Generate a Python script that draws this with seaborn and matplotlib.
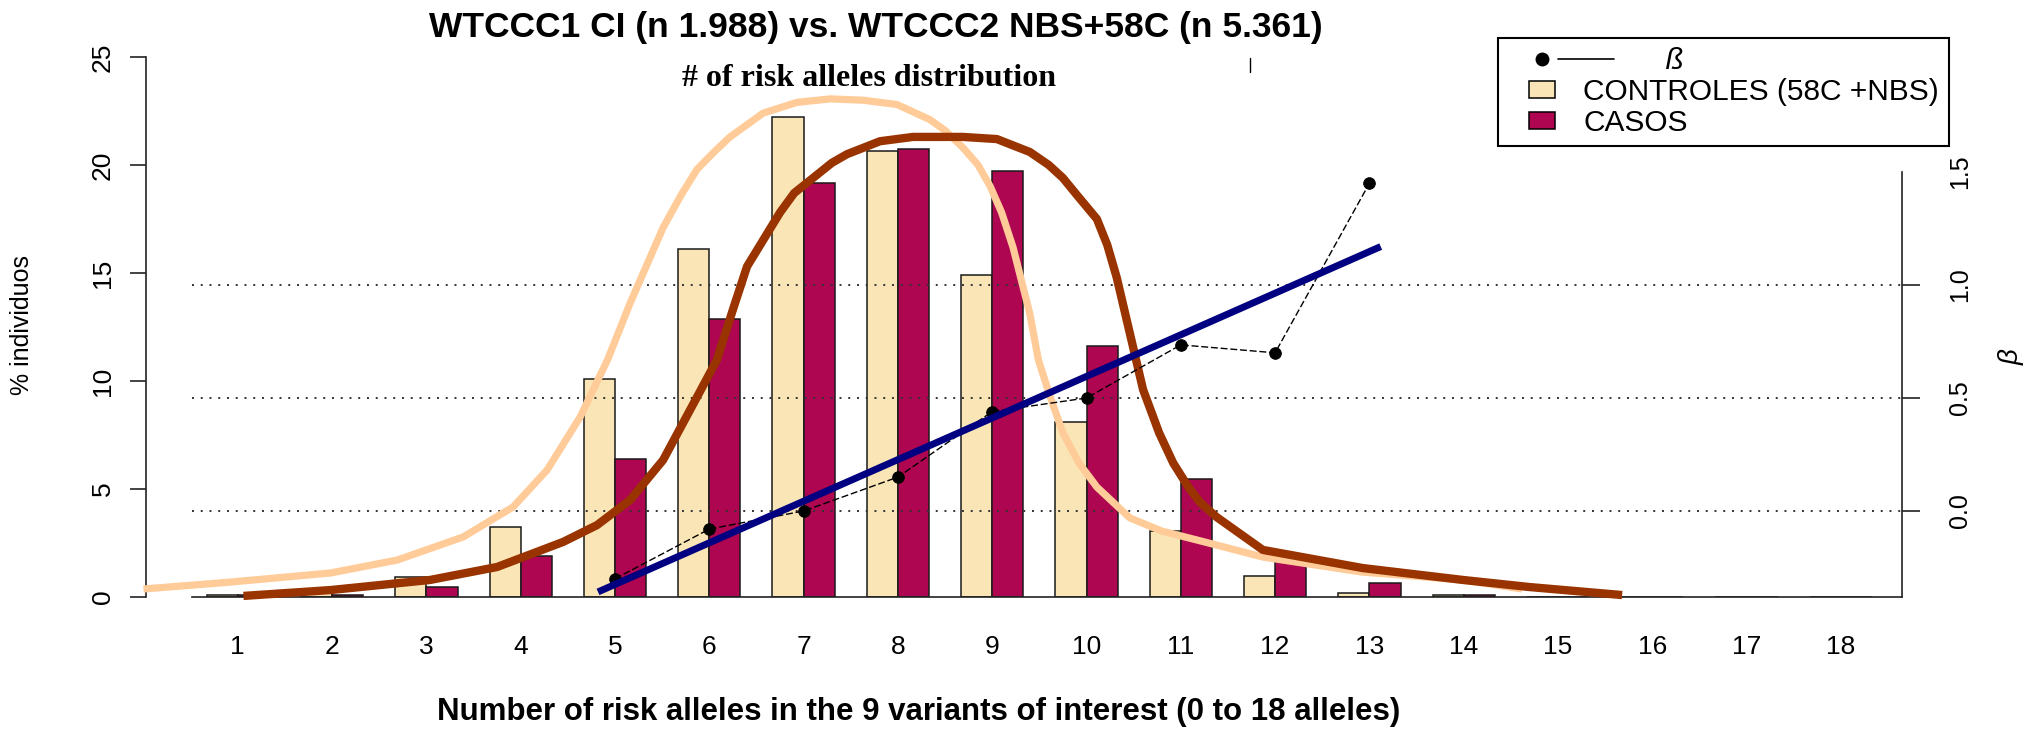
import numpy as np
import pandas as pd
import matplotlib
matplotlib.use("Agg")
import matplotlib.pyplot as plt
import matplotlib.transforms as mtransforms
from matplotlib.lines import Line2D
from matplotlib.patches import Patch, Rectangle
from matplotlib.legend_handler import HandlerBase
import seaborn as sns

# ---------------- data ----------------
alleles = list(range(1, 19))
tick_labels = [str(a) for a in alleles]
controls_pct = [0.08, 0.18, 0.93, 3.24, 10.1, 16.1, 22.2, 20.65, 14.9, 8.1,
                3.05, 0.97, 0.18, 0.07, 0.0, 0.0, 0.0, 0.0]
cases_pct = [0.08, 0.10, 0.46, 1.90, 6.4, 12.87, 19.17, 20.74, 19.7, 11.6,
             5.46, 1.67, 0.63, 0.07, 0.0, 0.0, 0.0, 0.0]

beta_alleles = [5, 6, 7, 8, 9, 10, 11, 12, 13]
beta_values = [-0.30, -0.08, 0.0, 0.15, 0.44, 0.50, 0.735, 0.70, 1.45]

trend_alleles = [4.82, 13.12]
trend_beta = [-0.358, 1.17]

ctrl_curve_x = [0.0, 0.92, 1.98, 2.69, 3.39, 3.92, 4.28, 4.63, 4.92, 5.16, 5.51,
                5.70, 5.87, 6.05, 6.22, 6.57, 6.93, 7.28, 7.63, 7.99, 8.34, 8.50,
                8.69, 8.85, 8.98, 9.10, 9.22, 9.40, 9.49, 9.62, 9.75, 9.92, 10.11,
                10.46, 10.80, 11.17, 11.87, 12.93, 13.99, 14.62]
ctrl_curve_y = [0.37, 0.69, 1.11, 1.71, 2.78, 4.17, 5.88, 8.33, 10.97, 13.6, 17.1,
                18.6, 19.8, 20.6, 21.3, 22.4, 22.9, 23.06, 23.0, 22.8, 22.1, 21.6,
                20.8, 20.0, 19.0, 17.8, 16.2, 13.1, 10.97, 9.2, 7.6, 6.2, 5.09,
                3.66, 3.05, 2.64, 1.85, 1.15, 0.79, 0.37]

case_curve_x = [1.06, 1.98, 3.04, 3.75, 4.45, 4.81, 5.16, 5.51, 5.87, 6.08, 6.25,
                6.40, 6.75, 6.90, 7.10, 7.30, 7.46, 7.81, 8.16, 8.69, 9.05, 9.40,
                9.60, 9.75, 9.90, 10.11, 10.22, 10.32, 10.46, 10.60, 10.77, 10.92,
                11.08, 11.20, 11.38, 11.87, 12.93, 13.99, 14.70, 15.68]
case_curve_y = [0.05, 0.32, 0.79, 1.39, 2.55, 3.33, 4.49, 6.34, 9.26, 10.97, 13.3,
                15.3, 17.8, 18.7, 19.4, 20.1, 20.5, 21.1, 21.3, 21.3, 21.2, 20.6,
                20.0, 19.4, 18.6, 17.5, 16.3, 14.8, 12.2, 9.6, 7.6, 6.2,
                5.09, 4.4, 3.70, 2.18, 1.34, 0.79, 0.46, 0.09]

beta_grid = [0.0, 0.5, 1.0]
left_ticks = [0, 5, 10, 15, 20, 25]
right_ticks = [0.0, 0.5, 1.0, 1.5]
right_tick_labels = ["0.0", "0.5", "1.0", "1.5"]

group_ctrl = "CONTROLES (58C +NBS)"
group_case = "CASOS"

# ---------------- style ----------------
sns.set_style("white")
plt.rcParams["font.family"] = ["Liberation Sans", "DejaVu Sans"]
plt.rcParams["text.color"] = "black"
plt.rcParams["axes.labelcolor"] = "black"
plt.rcParams["xtick.color"] = "black"
plt.rcParams["ytick.color"] = "black"

TAN = "#F9E5B5"
MAROON = "#AE0650"
PEACH = "#FFCC99"
BROWN = "#993300"
NAVY = "#000080"
EDGE = "#1a1a1a"

W, H = 2035, 734
fig = plt.figure(figsize=(W / 100, H / 100), dpi=100)

# axes geometry in pixels
ax_left, ax_right, ax_bottom, ax_top = 146, 1902, 597, 45
ax = fig.add_axes([ax_left / W, 1 - ax_bottom / H,
                   (ax_right - ax_left) / W, (ax_bottom - ax_top) / H])

px_per_allele = 94.3
x5_px = 615
xmin = 5 - (x5_px - ax_left) / px_per_allele
xmax = 5 + (ax_right - x5_px) / px_per_allele
pct_per_px = 1 / 21.6
ymax = (ax_bottom - ax_top) * pct_per_px

# bars
df = pd.DataFrame({
    "alleles": alleles * 2,
    "pct": controls_pct + cases_pct,
    "grupo": [group_ctrl] * len(alleles) + [group_case] * len(alleles),
})
sns.barplot(data=df, x="alleles", y="pct", hue="grupo",
            palette={group_ctrl: TAN, group_case: MAROON}, saturation=1,
            native_scale=True, width=0.66, gap=0, errorbar=None,
            edgecolor=EDGE, linewidth=1.1, legend=False, ax=ax, zorder=2)

ax.set_xlim(xmin, xmax)
ax.set_ylim(0, ymax)

# twin axis for beta
ax2 = ax.twinx()
beta_per_px = 1 / 226.0
b_bottom = (511 - ax_bottom) * beta_per_px
b_top = (511 - ax_top) * beta_per_px
ax2.set_ylim(b_bottom, b_top)
ax2.set_xlim(xmin, xmax)

# dotted reference lines (beta levels) drawn under the curves
blend = mtransforms.blended_transform_factory(ax.transData, ax2.transData)
grid_x0 = 5 - (x5_px - 192) / px_per_allele
ax.hlines(beta_grid, grid_x0, xmax, transform=blend, colors="#333333",
          linestyles=(0, (1, 3.5)), linewidth=1.4, zorder=3)

# density-like curves
sns.lineplot(x=ctrl_curve_x, y=ctrl_curve_y, ax=ax, color=PEACH, linewidth=5.2,
             sort=False, estimator=None, clip_on=False, zorder=4,
             solid_capstyle="butt", solid_joinstyle="round")
sns.lineplot(x=case_curve_x, y=case_curve_y, ax=ax, color=BROWN, linewidth=6,
             sort=False, estimator=None, clip_on=False, zorder=5,
             solid_capstyle="butt", solid_joinstyle="round")

# beta points + trend line
ax2.plot(beta_alleles, beta_values, color="black", linewidth=1.0,
         linestyle=(0, (5, 2)), zorder=3)
sns.scatterplot(x=beta_alleles, y=beta_values, ax=ax2, color="black", s=70,
                edgecolor="black", zorder=4)
sns.lineplot(x=trend_alleles, y=trend_beta, ax=ax2, color=NAVY, linewidth=5,
             sort=False, estimator=None, zorder=6, solid_capstyle="butt")

# ---------------- axes decoration ----------------
for s in ["top", "right"]:
    ax.spines[s].set_visible(False)
for s in ["top", "left", "bottom"]:
    ax2.spines[s].set_visible(False)
ax.spines["left"].set_bounds(0, 25)
ax.spines["bottom"].set_bounds(grid_x0, xmax)
ax2.spines["right"].set_bounds(b_bottom, 1.5)
for sp in [ax.spines["left"], ax.spines["bottom"], ax2.spines["right"]]:
    sp.set_linewidth(1.2)
    sp.set_color("#222222")

ax.set_xticks(alleles, labels=tick_labels)
ax.set_xticks([5, 10, 15], minor=True)
ax.tick_params(axis="x", which="major", length=0, pad=27, labelsize=19)
ax.tick_params(axis="x", which="minor", length=6, width=1.0, direction="out",
               color="#222222")

ax.set_yticks(left_ticks, labels=[str(t) for t in left_ticks],
              rotation=90, va="center")
ax.tick_params(axis="y", length=11.5, width=1.2, direction="out", pad=11,
               labelsize=19, color="#222222")

ax2.set_yticks(right_ticks, labels=right_tick_labels, rotation=90, va="center")
ax2.tick_params(axis="y", length=13, width=1.2, direction="out", pad=20,
                labelsize=18, color="#222222")
ax2.yaxis.get_major_ticks()[3].tick2line.set_visible(False)

ax.set_xlabel("Number of risk alleles in the 9 variants of interest (0 to 18 alleles)",
              fontsize=22.5, fontweight="bold")
ax.xaxis.set_label_coords((919 - ax_left) / (ax_right - ax_left),
                          (ax_bottom - 712) / (ax_bottom - ax_top))
ax.xaxis.label.set_va("center")

ax.set_ylabel("% individuos", fontsize=18)
ax.yaxis.set_label_coords((22 - ax_left) / (ax_right - ax_left),
                          (ax_bottom - 325) / (ax_bottom - ax_top))
ax.yaxis.label.set_va("center")

ax2.set_ylabel("β", fontsize=20, style="italic", rotation=90)
ax2.yaxis.set_label_coords((2012 - ax_left) / (ax_right - ax_left),
                           (ax_bottom - 357) / (ax_bottom - ax_top))
ax2.yaxis.label.set_va("center")

# titles
fig.text(876 / W, 1 - 27 / H, "WTCCC1 CI (n 1.988) vs. WTCCC2 NBS+58C (n 5.361)",
         ha="center", va="center", fontsize=25.5, fontweight="bold")
fig.text(869 / W, 1 - 78 / H, "# of risk alleles distribution",
         ha="center", va="center", fontsize=23, fontweight="bold",
         family=["Liberation Serif", "DejaVu Serif"])
fig.add_artist(Line2D([1250 / W, 1250 / W], [1 - 58 / H, 1 - 72 / H],
                      color="black", linewidth=1.0))


# ---------------- legend ----------------
class BetaHandler(HandlerBase):
    def create_artists(self, legend, orig_handle, xdescent, ydescent,
                       width, height, fontsize, trans):
        yc = height / 2 - ydescent
        xd = width - 0.43 * fontsize - xdescent
        dot = Line2D([xd], [yc], marker="o", color="black", markersize=9,
                     linestyle="none", transform=trans)
        line = Line2D([xd + 0.55 * fontsize, xd + 2.4 * fontsize], [yc, yc],
                      color="black", linewidth=1.2, transform=trans)
        return [dot, line]


class SquareHandler(HandlerBase):
    def create_artists(self, legend, orig_handle, xdescent, ydescent,
                       width, height, fontsize, trans):
        sw, sh = 0.85 * fontsize, 0.6 * fontsize
        x0 = width - sw - xdescent
        y0 = height / 2 - ydescent - sh / 2
        r = Rectangle((x0, y0), sw, sh, facecolor=orig_handle.get_facecolor(),
                      edgecolor="black", linewidth=1.1, transform=trans)
        return [r]


beta_handle = Line2D([], [], color="black", marker="o")
ctrl_handle = Patch(facecolor=TAN, edgecolor="black")
case_handle = Patch(facecolor=MAROON, edgecolor="black")
leg = ax2.legend([beta_handle, ctrl_handle, case_handle],
                 ["          ß", group_ctrl, group_case],
                 handler_map={beta_handle: BetaHandler(),
                              ctrl_handle: SquareHandler(),
                              case_handle: SquareHandler()},
                 loc="upper left", mode="expand",
                 bbox_to_anchor=(1498 / W, 1 - 152 / H, 451 / W, 114 / H),
                 bbox_transform=fig.transFigure, borderaxespad=0,
                 fontsize=21.5, handlelength=1.6, handletextpad=0.95,
                 labelspacing=0.1, borderpad=0.3, fancybox=False,
                 framealpha=1, edgecolor="black")
leg.get_frame().set_linewidth(1.5)
leg.get_texts()[0].set_style("italic")

fig.savefig("out.png", dpi=100)
